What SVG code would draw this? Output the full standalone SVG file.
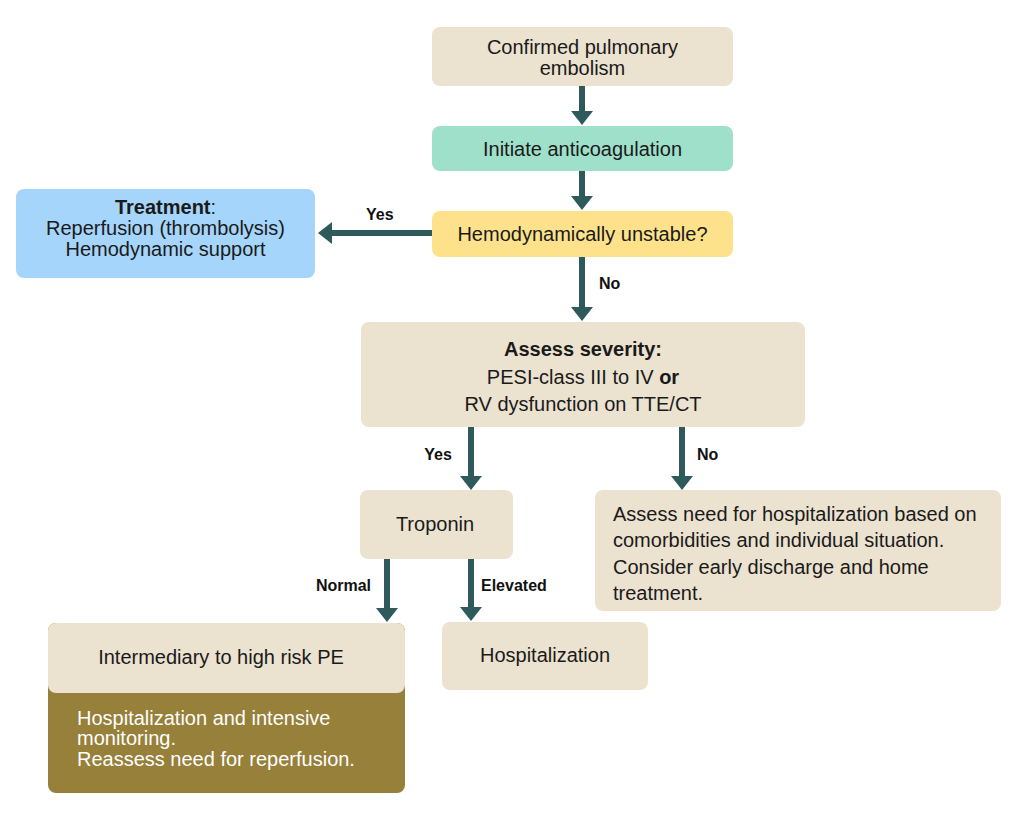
<svg xmlns="http://www.w3.org/2000/svg" width="1024" height="817" viewBox="0 0 1024 817">
<style>
  .t { font-family: "Liberation Sans", Arial, sans-serif; font-size: 20px; fill: #1a1a1a; }
  .c { text-anchor: middle; }
  .b { font-weight: bold; }
  .lbl { font-family: "Liberation Sans", Arial, sans-serif; font-size: 16px; font-weight: bold; fill: #111; }
  .w { fill: #ffffff; }
  .beige { fill: #ece2d0; }
  .conn line { stroke: #2e5a5c; stroke-width: 6; }
</style>
<defs>
  <marker id="ah" markerUnits="userSpaceOnUse" markerWidth="14" markerHeight="22" viewBox="0 0 14 22" refX="0" refY="11" orient="auto">
    <path d="M0,0 L14,11 L0,22 Z" fill="#2e5a5c"/>
  </marker>
</defs>
<rect width="1024" height="817" fill="#ffffff"/>

<g id="n-confirmed">
  <rect class="beige" x="432" y="27" width="301" height="59" rx="8"/>
  <text class="t c" x="582.5" y="54">Confirmed pulmonary</text>
  <text class="t c" x="582.5" y="74.5">embolism</text>
</g>
<g id="n-anticoag">
  <rect x="432" y="126" width="301" height="45" rx="8" fill="#9fe0cb"/>
  <text class="t c" x="582.5" y="156">Initiate anticoagulation</text>
</g>
<g id="n-unstable">
  <rect x="432" y="211" width="301" height="46" rx="8" fill="#fde28b"/>
  <text class="t c" x="582.5" y="241">Hemodynamically unstable?</text>
</g>
<g id="n-treatment">
  <rect x="16" y="189" width="299" height="89" rx="8" fill="#a5d5fb"/>
  <text class="t c" x="165.5" y="214"><tspan class="b">Treatment</tspan>:</text>
  <text class="t c" x="165.5" y="235">Reperfusion (thrombolysis)</text>
  <text class="t c" x="165.5" y="255.5">Hemodynamic support</text>
</g>
<g id="n-severity">
  <rect class="beige" x="361" y="322" width="444" height="105" rx="8"/>
  <text class="t c b" x="583" y="356">Assess severity:</text>
  <text class="t c" x="583" y="383.5">PESI-class III to IV <tspan class="b">or</tspan></text>
  <text class="t c" x="583" y="411">RV dysfunction on TTE/CT</text>
</g>
<g id="n-troponin">
  <rect class="beige" x="360" y="490" width="153" height="69" rx="8"/>
  <text class="t c" x="435" y="531">Troponin</text>
</g>
<g id="n-assessneed">
  <rect class="beige" x="595" y="490" width="406" height="121" rx="8"/>
  <text class="t" x="613" y="521">Assess need for hospitalization based on</text>
  <text class="t" x="613" y="547">comorbidities and individual situation.</text>
  <text class="t" x="613" y="573.5">Consider early discharge and home</text>
  <text class="t" x="613" y="600">treatment.</text>
</g>
<g id="n-intermediary">
  <rect x="48" y="623" width="357" height="170" rx="8" fill="#96803a"/>
  <rect class="beige" x="48" y="623" width="357" height="70" rx="8"/>
  <text class="t c" x="221" y="663.5">Intermediary to high risk PE</text>
  <text class="t w" x="77" y="724.5">Hospitalization and intensive</text>
  <text class="t w" x="77" y="745">monitoring.</text>
  <text class="t w" x="77" y="766">Reassess need for reperfusion.</text>
</g>
<g id="n-hospitalization">
  <rect class="beige" x="442" y="622" width="206" height="68" rx="8"/>
  <text class="t c" x="545" y="662">Hospitalization</text>
</g>

<g id="connectors" class="conn">
  <line x1="582" y1="86" x2="582" y2="111" marker-end="url(#ah)"/>
  <line x1="582" y1="171" x2="582" y2="196" marker-end="url(#ah)"/>
  <line x1="432" y1="233" x2="332" y2="233" marker-end="url(#ah)"/>
  <line x1="582" y1="257" x2="582" y2="307" marker-end="url(#ah)"/>
  <line x1="471" y1="427" x2="471" y2="476" marker-end="url(#ah)"/>
  <line x1="682" y1="427" x2="682" y2="476" marker-end="url(#ah)"/>
  <line x1="387" y1="559" x2="387" y2="608" marker-end="url(#ah)"/>
  <line x1="471" y1="559" x2="471" y2="607" marker-end="url(#ah)"/>
</g>
<g id="labels">
  <text class="lbl" x="366" y="220">Yes</text>
  <text class="lbl" x="599" y="289">No</text>
  <text class="lbl" x="438" y="459.5" text-anchor="middle">Yes</text>
  <text class="lbl" x="697" y="459.5">No</text>
  <text class="lbl" x="371" y="590.5" text-anchor="end">Normal</text>
  <text class="lbl" x="481" y="590.5">Elevated</text>
</g>
</svg>
